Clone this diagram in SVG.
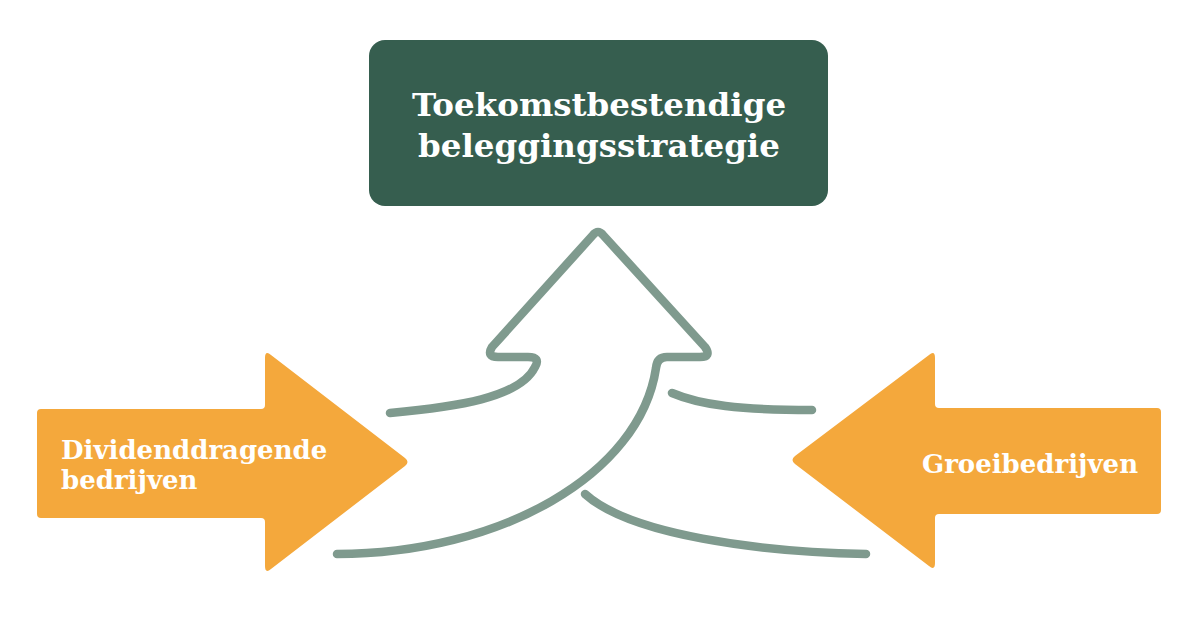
<svg xmlns="http://www.w3.org/2000/svg" width="1200" height="619" viewBox="0 0 1200 619">
<style>
.lbl{font-family:"DejaVu Serif","Liberation Serif",serif;font-weight:bold;fill:#ffffff}
.orange{fill:#F4A83C}
.conn{fill:none;stroke:#7F9A8E;stroke-width:8.5;stroke-linecap:round;stroke-linejoin:round}
</style>
<rect width="1200" height="619" fill="#ffffff"/>
<g id="strategy">
<rect x="369" y="40" width="459" height="166" rx="16" ry="16" fill="#365E4F"/>
<text class="lbl" x="599" y="116" font-size="32.5" text-anchor="middle">Toekomstbestendige</text>
<text class="lbl" x="599" y="157" font-size="32.5" text-anchor="middle">beleggingsstrategie</text>
</g>
<g id="dividend">
<path class="orange" d="M41,409 L261,409 Q265,409 265,405 L265,358 Q265,350 271,355 L405,458 Q410,462 405,466 L271,569 Q265,574 265,566 L265,522 Q265,518 261,518 L41,518 Q37,518 37,514 L37,413 Q37,409 41,409 Z"/>
<text class="lbl" x="61" y="459" font-size="26">Dividenddragende</text>
<text class="lbl" x="61" y="489" font-size="26">bedrijven</text>
</g>
<g id="growth">
<path class="orange" d="M1157,408 L939,408 Q935,408 935,404 L935,358 Q935,350 929,355 L795,456 Q790,460 795,464 L929,566 Q935,571 935,563 L935,518 Q935,514 939,514 L1157,514 Q1161,514 1161,510 L1161,412 Q1161,408 1157,408 Z"/>
<text class="lbl" x="1030" y="473" font-size="26" text-anchor="middle">Groeibedrijven</text>
</g>
<g id="connectors">
<path class="conn" d="M337,554 C500,554 640,475 656,368 Q657,357 667,357 L700,357 Q712,357 705,347 L603,235 Q598,229 593,235 L492,347 Q486,357 498,357 L528,357 Q541,357 535,367 C520,398 455,407 390,413"/>
<path class="conn" d="M672,393 C700,405 740,410 812,410"/>
<path class="conn" d="M585,494 C630,535 760,552 866,554"/>
</g>
</svg>
